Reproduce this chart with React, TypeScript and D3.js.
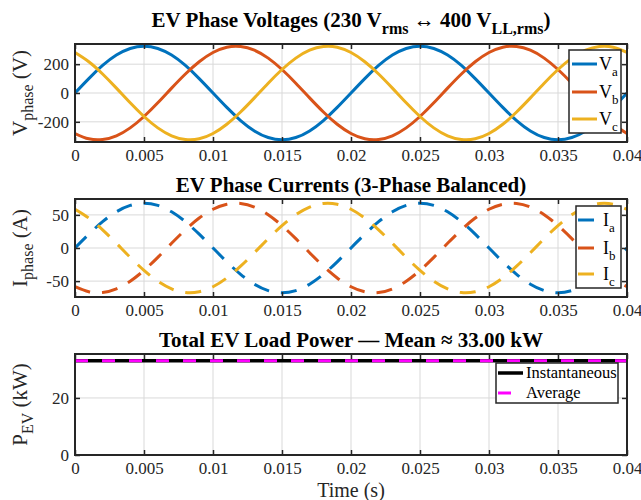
import React, { useEffect, useRef } from 'react'
import * as d3 from 'd3'

const FONT = '"Liberation Serif", "Times New Roman", serif'
const AX = '#262626'
const GRID = '#d9d9d9'

// time samples (s)
const time = [
  0, 0.001, 0.002, 0.003, 0.004, 0.005, 0.006, 0.007, 0.008, 0.009,
  0.01, 0.011, 0.012, 0.013, 0.014, 0.015, 0.016, 0.017, 0.018, 0.019,
  0.02, 0.021, 0.022, 0.023, 0.024, 0.025, 0.026, 0.027, 0.028, 0.029,
  0.03, 0.031, 0.032, 0.033, 0.034, 0.035, 0.036, 0.037, 0.038, 0.039, 0.04,
]

// phase voltages (V)
const va = [
  0, 100, 191, 263, 309, 325, 309, 263, 191, 100, 0, -100, -191, -263, -309, -325, -309, -263, -191, -100,
  0, 100, 191, 263, 309, 325, 309, 263, 191, 100, 0, -100, -191, -263, -309, -325, -309, -263, -191, -100, 0,
]
const vb = [
  -281, -318, -323, -297, -242, -163, -68, 34, 132, 217, 281, 318, 323, 297, 242, 163, 68, -34, -132, -217,
  -281, -318, -323, -297, -242, -163, -68, 34, 132, 217, 281, 318, 323, 297, 242, 163, 68, -34, -132, -217, -281,
]
const vc = [
  281, 217, 132, 34, -68, -163, -242, -297, -323, -318, -281, -217, -132, -34, 68, 163, 242, 297, 323, 318,
  281, 217, 132, 34, -68, -163, -242, -297, -323, -318, -281, -217, -132, -34, 68, 163, 242, 297, 323, 318, 281,
]

// phase currents (A)
const ia = [
  0, 20.9, 39.7, 54.7, 64.3, 67.6, 64.3, 54.7, 39.7, 20.9, 0, -20.9, -39.7, -54.7, -64.3, -67.6, -64.3, -54.7, -39.7, -20.9,
  0, 20.9, 39.7, 54.7, 64.3, 67.6, 64.3, 54.7, 39.7, 20.9, 0, -20.9, -39.7, -54.7, -64.3, -67.6, -64.3, -54.7, -39.7, -20.9, 0,
]
const ib = [
  -58.5, -66.1, -67.3, -61.8, -50.2, -33.8, -14.1, 7.1, 27.5, 45.2, 58.5, 66.1, 67.3, 61.8, 50.2, 33.8, 14.1, -7.1, -27.5, -45.2,
  -58.5, -66.1, -67.3, -61.8, -50.2, -33.8, -14.1, 7.1, 27.5, 45.2, 58.5, 66.1, 67.3, 61.8, 50.2, 33.8, 14.1, -7.1, -27.5, -45.2, -58.5,
]
const ic = [
  58.5, 45.2, 27.5, 7.1, -14.1, -33.8, -50.2, -61.8, -67.3, -66.1, -58.5, -45.2, -27.5, -7.1, 14.1, 33.8, 50.2, 61.8, 67.3, 66.1,
  58.5, 45.2, 27.5, 7.1, -14.1, -33.8, -50.2, -61.8, -67.3, -66.1, -58.5, -45.2, -27.5, -7.1, 14.1, 33.8, 50.2, 61.8, 67.3, 66.1, 58.5,
]

// power (kW)
const pTime = [0, 0.04]
const pInst = [33, 33]
const pAvg = [33, 33]

const xTicks = [0, 0.005, 0.01, 0.015, 0.02, 0.025, 0.03, 0.035, 0.04]
const vTicks = [-200, 0, 200]
const iTicks = [-50, 0, 50]
const pTicks = [0, 20]

const L = 75
const R = 627

type Part = { t: string; sub?: boolean }
type Series = { t: number[]; v: number[]; color: string; width: number; dash?: string; label: Part[] }

function addParts(text: any, parts: Part[], size: number, subSize: number, shift: number) {
  let down = false
  parts.forEach(p => {
    const ts = text.append('tspan').text(p.t)
    if (p.sub && !down) { ts.attr('dy', shift).attr('font-size', subSize); down = true }
    else if (!p.sub && down) { ts.attr('dy', -shift).attr('font-size', size); down = false }
    else if (p.sub) ts.attr('font-size', subSize)
  })
}

function drawPanel(svg: any, o: any) {
  const x = d3.scaleLinear().domain([0, 0.04]).range([L, R])
  const y = d3.scaleLinear().domain(o.yDomain).range([o.bottom, o.top])
  const g = svg.append('g')

  // grid
  g.selectAll('.gx').data(xTicks).join('line')
    .attr('x1', (d: number) => x(d)).attr('x2', (d: number) => x(d))
    .attr('y1', o.top).attr('y2', o.bottom)
    .attr('stroke', GRID).attr('stroke-width', 1)
  g.selectAll('.gy').data(o.yTicks).join('line')
    .attr('y1', (d: number) => y(d)).attr('y2', (d: number) => y(d))
    .attr('x1', L).attr('x2', R)
    .attr('stroke', GRID).attr('stroke-width', 1)

  const id = 'clip-' + o.key
  svg.append('clipPath').attr('id', id).append('rect')
    .attr('x', L).attr('y', o.top).attr('width', R - L).attr('height', o.bottom - o.top)

  o.series.forEach((s: Series) => {
    const line = d3.line<number>()
      .x((d, i) => x(s.t[i]))
      .y(d => y(d))
      .curve(d3.curveNatural)
    g.append('path')
      .attr('d', line(s.v))
      .attr('fill', 'none')
      .attr('stroke', s.color)
      .attr('stroke-width', s.width)
      .attr('stroke-dasharray', s.dash || null)
      .attr('clip-path', `url(#${id})`)
  })

  const fmt = (d: any) => String(+(+d).toFixed(3))
  const axes = [
    g.append('g').attr('transform', `translate(0,${o.bottom})`)
      .call(d3.axisBottom(x).tickValues(xTicks).tickSize(-5).tickPadding(7).tickFormat(fmt)),
    g.append('g').attr('transform', `translate(0,${o.top})`)
      .call(d3.axisTop(x).tickValues(xTicks).tickSize(-5).tickFormat(() => '')),
    g.append('g').attr('transform', `translate(${L},0)`)
      .call(d3.axisLeft(y).tickValues(o.yTicks).tickSize(-5).tickPadding(6).tickFormat(fmt)),
    g.append('g').attr('transform', `translate(${R},0)`)
      .call(d3.axisRight(y).tickValues(o.yTicks).tickSize(-5).tickFormat(() => '')),
  ]
  axes.forEach(a => {
    a.select('.domain').remove()
    a.selectAll('line').attr('stroke', AX).attr('stroke-width', 1.5)
    a.selectAll('text').attr('fill', AX).attr('font-family', FONT).attr('font-size', 17)
  })

  g.append('rect')
    .attr('x', L).attr('y', o.top).attr('width', R - L).attr('height', o.bottom - o.top)
    .attr('fill', 'none').attr('stroke', AX).attr('stroke-width', 2)

  // title
  const title = g.append('text')
    .attr('x', (L + R) / 2).attr('y', o.titleY)
    .attr('text-anchor', 'middle').attr('font-family', FONT)
    .attr('font-size', 21).attr('font-weight', 'bold').attr('fill', '#000')
  addParts(title, o.title, 21, 16, 7)

  // y label
  const yl = g.append('text')
    .attr('transform', `translate(27,${(o.top + o.bottom) / 2}) rotate(-90)`)
    .attr('text-anchor', 'middle').attr('font-family', FONT)
    .attr('font-size', 21).attr('fill', AX)
  addParts(yl, o.ylabel, 21, 16, 6)

  // legend
  const lg = o.legend
  g.append('rect')
    .attr('x', lg.x).attr('y', lg.y).attr('width', lg.w).attr('height', lg.h)
    .attr('fill', '#fff').attr('stroke', AX).attr('stroke-width', 1.5)
  o.series.forEach((s: Series, i: number) => {
    if (!s.label.length) return
    const cy = lg.rows[i]
    g.append('line')
      .attr('x1', lg.lx1).attr('x2', lg.lx2).attr('y1', cy).attr('y2', cy)
      .attr('stroke', s.color).attr('stroke-width', s.width)
      .attr('stroke-dasharray', s.dash || null)
    const t = g.append('text')
      .attr('x', lg.tx).attr('y', cy + lg.size * 0.33)
      .attr('font-family', FONT).attr('font-size', lg.size).attr('fill', '#000')
    addParts(t, s.label, lg.size, 13, 6)
  })
}

export default function App() {
  const ref = useRef<SVGSVGElement>(null)

  useEffect(() => {
    const svg = d3.select(ref.current)
    svg.selectAll('*').remove()

    drawPanel(svg, {
      key: 'v', top: 44, bottom: 142, yDomain: [-340, 340], yTicks: vTicks, titleY: 27,
      title: [{ t: 'EV Phase Voltages (230 V' }, { t: 'rms', sub: true }, { t: ' \u2194 400 V' }, { t: 'LL,rms', sub: true }, { t: ')' }],
      ylabel: [{ t: 'V' }, { t: 'phase', sub: true }, { t: ' (V)' }],
      series: [
        { t: time, v: va, color: '#0072BD', width: 3, label: [{ t: 'V' }, { t: 'a', sub: true }] },
        { t: time, v: vb, color: '#D95319', width: 3, label: [{ t: 'V' }, { t: 'b', sub: true }] },
        { t: time, v: vc, color: '#EDB120', width: 3, label: [{ t: 'V' }, { t: 'c', sub: true }] },
      ],
      legend: { x: 569, y: 50, w: 52, h: 83, rows: [64, 92, 119], lx1: 572, lx2: 597, tx: 599, size: 18 },
    })

    drawPanel(svg, {
      key: 'i', top: 199, bottom: 297, yDomain: [-74, 74], yTicks: iTicks, titleY: 192,
      title: [{ t: 'EV Phase Currents (3-Phase Balanced)' }],
      ylabel: [{ t: 'I' }, { t: 'phase', sub: true }, { t: ' (A)' }],
      series: [
        { t: time, v: ia, color: '#0072BD', width: 3, dash: '16 12', label: [{ t: 'I' }, { t: 'a', sub: true }] },
        { t: time, v: ib, color: '#D95319', width: 3, dash: '16 12', label: [{ t: 'I' }, { t: 'b', sub: true }] },
        { t: time, v: ic, color: '#EDB120', width: 3, dash: '16 12', label: [{ t: 'I' }, { t: 'c', sub: true }] },
      ],
      legend: { x: 576, y: 206, w: 45, h: 82, rows: [220, 248, 274], lx1: 578, lx2: 595, tx: 603, size: 18 },
    })

    drawPanel(svg, {
      key: 'p', top: 354, bottom: 455, yDomain: [0, 35.4], yTicks: pTicks, titleY: 347,
      title: [{ t: 'Total EV Load Power \u2014 Mean \u2248 33.00 kW' }],
      ylabel: [{ t: 'P' }, { t: 'EV', sub: true }, { t: ' (kW)' }],
      series: [
        { t: pTime, v: pInst, color: '#000000', width: 3.5, label: [{ t: 'Instantaneous' }] },
        { t: pTime, v: pAvg, color: '#FF00FF', width: 3, dash: '13 14', label: [{ t: 'Average' }] },
      ],
      legend: { x: 496, y: 363, w: 122, h: 40, rows: [373, 393], lx1: 498, lx2: 523, tx: 526, size: 16.5 },
    })

    svg.append('text')
      .attr('x', (L + R) / 2).attr('y', 497)
      .attr('text-anchor', 'middle').attr('font-family', FONT)
      .attr('font-size', 20).attr('fill', AX)
      .text('Time (s)')
  }, [])

  return (
    <svg ref={ref} width={641} height={500}
      style={{ position: 'absolute', left: 0, top: 0, background: '#fff' }} />
  )
}
